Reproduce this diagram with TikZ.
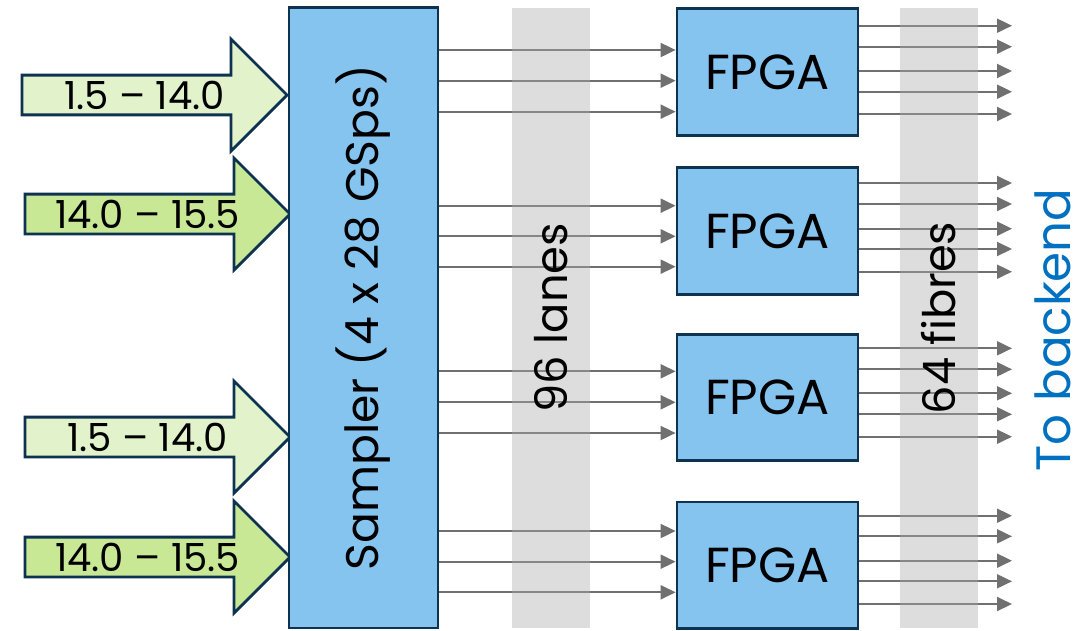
\documentclass[tikz,border=0pt]{standalone}
\usepackage{fontspec}
\setmainfont{Poppins}
\usepackage{xcolor}
\usepackage{tikz}
\usetikzlibrary{arrows.meta, shapes.arrows}

\definecolor{boxblue}{HTML}{85C4EE}
\definecolor{boxline}{HTML}{0E3350}
\definecolor{lowband}{HTML}{E2F2CB}
\definecolor{highband}{HTML}{C8E896}
\definecolor{lanegray}{HTML}{707070}
\definecolor{stripgray}{HTML}{AAAAAA}
\definecolor{backblue}{HTML}{0070C0}

\begin{document}
\begin{tikzpicture}[
    x=0.02cm,y=-0.02cm,
    >={Triangle[length=0.3cm,width=0.28cm]},
    font=\fontsize{28}{32}\selectfont,
    block/.style={
        draw=boxline, line width=1.6pt, fill=boxblue,
        align=center, inner sep=0pt
    },
    fpga/.style={
        block,
        minimum width=3.62cm,
        minimum height=2.53cm
    },
    strip/.style={
        fill=stripgray, fill opacity=0.4, text opacity=1,
        minimum width=1.56cm, minimum height=12.4cm,
        inner sep=0pt, font=\fontsize{25.5}{30}\selectfont
    },
    band/.style={
        single arrow, draw=boxline, line width=1.6pt,
        single arrow head extend=0.57cm,
        minimum width=2.24cm, minimum height=5.3cm,
        inner xsep=0pt, inner ysep=0pt, anchor=tip,
        font=\fontsize{22}{26}\selectfont
    },
    lane/.style={->, lanegray, line width=1.1pt}
]

\useasboundingbox (0,0) rectangle (1084,630);

% --- Input bands ---
\node[band, fill=lowband]  (in1) at (289,95)  {1.5 – 14.0};
\node[band, fill=highband] (in2) at (292,214) {14.0 – 15.5};
\node[band, fill=lowband]  (in3) at (292,437) {1.5 – 14.0};
\node[band, fill=highband] (in4) at (292,557) {14.0 – 15.5};

% --- Sampler and FPGAs ---
\node[block, minimum width=2.98cm, minimum height=12.41cm,
      font=\fontsize{26}{30}\selectfont] (sampler) at (363.5,317.8)
{\rotatebox{90}{Sampler (4 x 28 GSps)}};

\node[fpga] (fpga1) at (767.5,72)    {FPGA};
\node[fpga] (fpga2) at (767.5,231)   {FPGA};
\node[fpga] (fpga3) at (767.5,397.4) {FPGA};
\node[fpga] (fpga4) at (767.5,565.2) {FPGA};

\coordinate (backend) at (1012,0);

% --- Lanes from the sampler ---
\foreach \f/\ys in {fpga1/{50,80.7,111.7}, fpga2/{205.7,236.3,266.7},
                    fpga3/{371.3,402.3,433}, fpga4/{531,561.7,592.3}}
    \foreach \y in \ys
        \draw[lane] (sampler.east |- 0,\y) -- (\f.west |- 0,\y);

% --- Fibres to the backend ---
\foreach \f/\ys in {fpga1/{25.7,46.7,71,91.7,114}, fpga2/{183,204,228.7,249,271.7},
                    fpga3/{348.3,369.3,393.3,414.3,436.7}, fpga4/{515.7,536.3,560.7,581.3,604}}
    \foreach \y in \ys
        \draw[lane] (\f.east |- 0,\y) -- (backend |- 0,\y);

% --- Shaded strips ---
\node[strip] (lanes)  at (551,318) {\rotatebox{90}{96 lanes}};
\node[strip] (fibres) at (939,318) {\rotatebox{90}{64 fibres}};

\node[text=backblue, inner sep=0pt, font=\fontsize{27.5}{32}\selectfont]
    (tobackend) at (1053,330) {\rotatebox{90}{To backend}};

\end{tikzpicture}
\end{document}
